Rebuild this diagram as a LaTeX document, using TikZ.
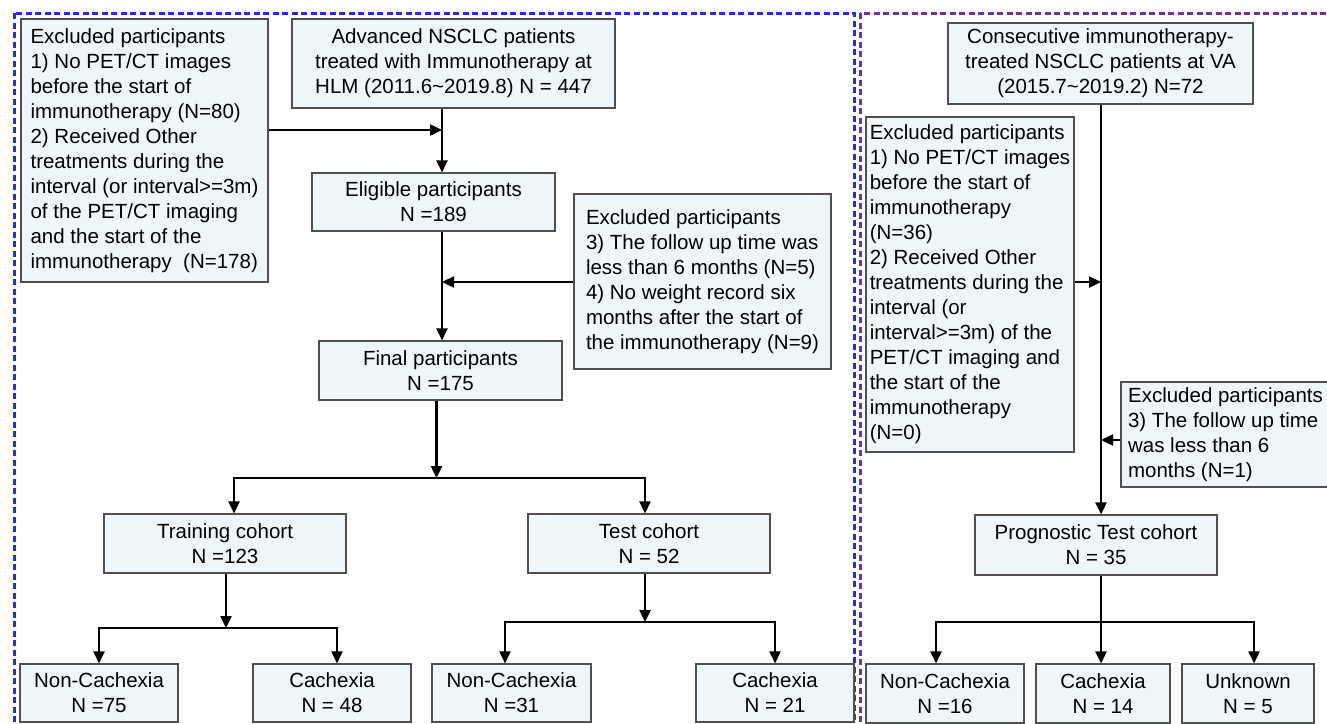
\documentclass[tikz,border=0pt]{standalone}
\usepackage{fontspec}
\setmainfont{Liberation Sans}
\usetikzlibrary{arrows.meta}
\definecolor{boxfill}{RGB}{238,246,250}
\definecolor{boxline}{RGB}{80,80,80}
\definecolor{frameblue}{RGB}{40,40,245}
\definecolor{framepurple}{RGB}{112,48,160}
\begin{document}
\begin{tikzpicture}[x=1pt,y=-1pt,
  box/.style={draw=boxline,line width=1.1pt,fill=boxfill,inner sep=0pt,
    font=\fontsize{20.5}{25}\selectfont,align=center},
  lbox/.style={box,align=left},
  arr/.style={line width=2.4pt,-{Triangle[length=12pt,width=11pt]}},
  frame/.style={line width=3pt,dash pattern=on 6pt off 3.5pt}]
\useasboundingbox (0,0) rectangle (1327,723);
% frames
\draw[frame,frameblue] (14,13) rectangle (854,735);
\draw[frame,framepurple] (860,13) rectangle (1340,735);
% coordinates
\coordinate (xA) at (442,0);
\coordinate (yA) at (0,130);
\coordinate (yB) at (0,282);
\coordinate (xF) at (436.5,0);
\coordinate (yS1) at (0,478);
\coordinate (xL1) at (234,0);
\coordinate (xR1) at (645,0);
\coordinate (xT) at (226,0);
\coordinate (y2) at (0,628);
\coordinate (xL2) at (99,0);
\coordinate (xR2) at (337,0);
\coordinate (y3) at (0,622);
\coordinate (xL3) at (505,0);
\coordinate (xR3) at (775,0);
\coordinate (xB) at (1101,0);
\coordinate (yC) at (0,282);
\coordinate (yD) at (0,440);
\coordinate (xL4) at (936,0);
\coordinate (xR4) at (1254,0);
% left panel
\node[lbox,minimum width=247pt,minimum height=263pt] (ex1) at (144.5,150.5)
 {Excluded participants\\1) No PET/CT images\\before the start of\\immunotherapy (N=80)\\2) Received Other\\treatments during the\\interval (or interval>=3m)\\of the PET/CT imaging\\and the start of the\\immunotherapy\ \ (N=178)};
\node[box,minimum width=323pt,minimum height=89pt] (hlm) at (453.5,63.5)
 {Advanced NSCLC patients\\treated with Immunotherapy at\\HLM (2011.6\textasciitilde2019.8) N = 447};
\node[box,minimum width=243pt,minimum height=58pt] (elig) at (433.5,202)
 {Eligible participants\\N =189};
\node[lbox,minimum width=257pt,minimum height=175pt] (ex2) at (702.5,281.5)
 {Excluded participants\\3) The follow up time was\\less than 6 months (N=5)\\4) No weight record six\\months after the start of\\the immunotherapy (N=9)};
\node[box,minimum width=243pt,minimum height=59pt] (final) at (440.5,370.5)
 {Final participants\\N =175};
\node[box,minimum width=242pt,minimum height=59pt] (train) at (225,543.5)
 {Training cohort\\N =123};
\node[box,minimum width=242pt,minimum height=59pt] (test) at (649,543.5)
 {Test cohort\\N = 52};
\node[box,minimum width=158pt,minimum height=58pt] (nc1) at (99,693)
 {Non-Cachexia\\N =75};
\node[box,minimum width=158pt,minimum height=58pt] (c1) at (332,693)
 {Cachexia\\N = 48};
\node[box,minimum width=159pt,minimum height=58pt] (nc2) at (511.5,693)
 {Non-Cachexia\\N =31};
\node[box,minimum width=158pt,minimum height=58pt] (c2) at (775,693)
 {Cachexia\\N = 21};
% right panel
\node[box,minimum width=305pt,minimum height=81pt] (cons) at (1100.5,63.5)
 {Consecutive immunotherapy-\\treated NSCLC patients at VA\\(2015.7\textasciitilde2019.2) N=72};
\node[lbox,minimum width=208pt,minimum height=335pt] (rex1) at (970,284.5)
 {Excluded participants\\1) No PET/CT images\\before the start of\\immunotherapy\\(N=36)\\2) Received Other\\treatments during the\\interval (or\\interval>=3m) of the\\PET/CT imaging and\\the start of the\\immunotherapy\\(N=0)};
\node[lbox,minimum width=209pt,minimum height=105pt] (rex2) at (1225.5,434.5)
 {Excluded participants\\3) The follow up time\\was less than 6\\months (N=1)};
\node[box,minimum width=242pt,minimum height=60pt] (prog) at (1096,545)
 {Prognostic Test cohort\\N = 35};
\node[box,minimum width=158pt,minimum height=59pt] (nc3) at (945,693.5)
 {Non-Cachexia\\N =16};
\node[box,minimum width=134pt,minimum height=59pt] (c3) at (1103,693.5)
 {Cachexia\\N = 14};
\node[box,minimum width=132pt,minimum height=59pt] (unk) at (1248,693.5)
 {Unknown\\N = 5};
% connectors left
\draw[arr] (hlm.south -| xA) -- (elig.north -| xA);
\draw[arr] (ex1.east |- yA) -- (xA |- yA);
\draw[arr] (elig.south -| xA) -- (final.north -| xA);
\draw[arr] (ex2.west |- yB) -- (xA |- yB);
\draw[arr] (final.south -| xF) -- (xF |- yS1);
\draw[arr] (xF |- yS1) -| (train.north -| xL1);
\draw[arr] (xF |- yS1) -| (test.north -| xR1);
\draw[arr] (train.south -| xT) -- (xT |- y2);
\draw[arr] (xT |- y2) -| (nc1.north -| xL2);
\draw[arr] (xT |- y2) -| (c1.north -| xR2);
\draw[arr] (test.south -| xR1) -- (xR1 |- y3);
\draw[arr] (xR1 |- y3) -| (nc2.north -| xL3);
\draw[arr] (xR1 |- y3) -| (c2.north -| xR3);
% connectors right
\draw[arr] (cons.south -| xB) -- (prog.north -| xB);
\draw[arr] (rex1.east |- yC) -- (xB |- yC);
\draw[arr] (rex2.west |- yD) -- (xB |- yD);
\draw[arr] (prog.south -| xB) -- (c3.north -| xB);
\draw[arr] (xB |- y3) -| (nc3.north -| xL4);
\draw[arr] (xB |- y3) -| (unk.north -| xR4);
\end{tikzpicture}
\end{document}
